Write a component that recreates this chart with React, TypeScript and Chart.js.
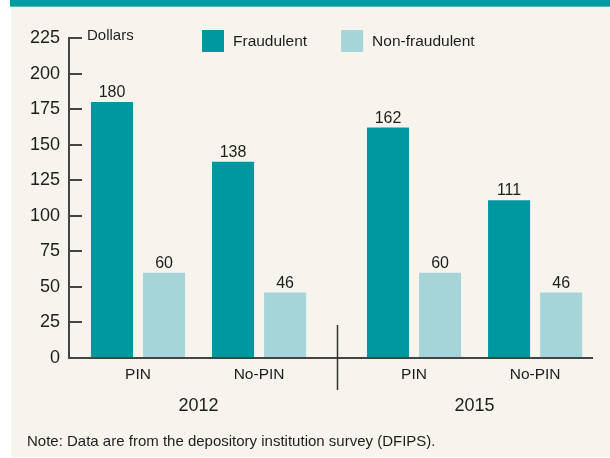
import React, { useEffect, useRef } from "react";
import { Chart, registerables } from "chart.js";

Chart.register(...registerables);

// ---- data ----
const years = ["2012", "2015"];
const cardTypes = ["PIN", "No-PIN"];
const seriesNames = ["Fraudulent", "Non-fraudulent"];
const fraudulent = [180, 138, 162, 111];
const nonFraudulent = [60, 46, 60, 46];
const yTickValues = [0, 25, 50, 75, 100, 125, 150, 175, 200, 225];
const unitLabel = "Dollars";
const noteText = "Note: Data are from the depository institution survey (DFIPS).";

// ---- layout / style ----
const YEAR_GAP = 0.28;
const X_MIN = -0.57;
const X_MAX = 3.75;
const FONT = "'Liberation Sans', Arial, sans-serif";
const TEXT = "#1f1d1c";
const AXIS = "#444444";
const DARK_TEAL = "#0098a0";
const LIGHT_TEAL = "#a6d5d9";
const BG = "#f7f4ee";

const xPositions = years.flatMap((_, yi) =>
  cardTypes.map((_, ci) => yi * (cardTypes.length + YEAR_GAP) + ci)
);
const xLabels = years.flatMap(() => cardTypes);
const yearCenters = years.map(
  (_, yi) => yi * (cardTypes.length + YEAR_GAP) + (cardTypes.length - 1) / 2
);

const decorPlugin = {
  id: "decor",
  beforeDraw(chart: any) {
    const { ctx, width, height } = chart;
    ctx.save();
    ctx.fillStyle = "#ffffff";
    ctx.fillRect(0, 0, width, height);
    ctx.fillStyle = BG;
    ctx.fillRect(11, 0, width - 11, height - 1);
    ctx.fillStyle = "#009aa0";
    ctx.fillRect(10, 0, width - 10, 6);
    ctx.fillStyle = "#4fb8bc";
    ctx.fillRect(10, 6, width - 10, 1);
    ctx.restore();
  },
  afterDatasetsDraw(chart: any) {
    const { ctx } = chart;
    ctx.save();
    ctx.font = `16px ${FONT}`;
    ctx.fillStyle = TEXT;
    ctx.textAlign = "center";
    ctx.textBaseline = "alphabetic";
    chart.data.datasets.forEach((ds: any, di: number) => {
      const meta = chart.getDatasetMeta(di);
      meta.data.forEach((el: any, i: number) => {
        ctx.fillText(String(ds.data[i].y), el.x, el.y - 5);
      });
    });
    ctx.restore();
  },
  afterDraw(chart: any) {
    const { ctx, chartArea, scales } = chart;
    ctx.save();
    // unit label
    ctx.font = `15px ${FONT}`;
    ctx.fillStyle = TEXT;
    ctx.textAlign = "left";
    ctx.textBaseline = "middle";
    ctx.fillText(unitLabel, chartArea.left + 18, chartArea.top - 2.5);
    // legend
    ctx.font = `15.5px ${FONT}`;
    let x = 202;
    chart.data.datasets.forEach((ds: any) => {
      ctx.fillStyle = ds.backgroundColor;
      ctx.fillRect(x, 30, 22, 22);
      ctx.fillStyle = TEXT;
      ctx.fillText(ds.label, x + 31, 42);
      x += 31 + ctx.measureText(ds.label).width + 34;
    });
    // year separator
    const sepVal =
      (xPositions[cardTypes.length - 1] + xPositions[cardTypes.length]) / 2;
    const sx = Math.round(scales.x.getPixelForValue(sepVal)) + 0.5;
    ctx.strokeStyle = "#333";
    ctx.lineWidth = 1.5;
    ctx.beginPath();
    ctx.moveTo(sx, chartArea.bottom - 33);
    ctx.lineTo(sx, chartArea.bottom + 32);
    ctx.stroke();
    ctx.restore();
  },
};

export default function App() {
  const ref = useRef<HTMLCanvasElement>(null);
  useEffect(() => {
    document.body.style.margin = "0";
    if (!ref.current) return;
    const chart = new Chart(ref.current, {
      type: "bar",
      data: {
        datasets: [
          {
            label: seriesNames[0],
            data: xPositions.map((x, i) => ({ x, y: fraudulent[i] })),
            backgroundColor: DARK_TEAL,
          },
          {
            label: seriesNames[1],
            data: xPositions.map((x, i) => ({ x, y: nonFraudulent[i] })),
            backgroundColor: LIGHT_TEAL,
          },
        ],
      },
      options: {
        animation: false,
        responsive: false,
        events: [],
        datasets: { bar: { categoryPercentage: 0.86, barPercentage: 0.808, grouped: true } },
        layout: { padding: { left: 27, right: 18, top: 38, bottom: 1 } },
        plugins: {
          legend: { display: false },
          tooltip: { enabled: false },
          title: {
            display: true,
            text: noteText,
            position: "bottom",
            align: "start",
            color: TEXT,
            font: { family: FONT, size: 15, weight: "normal" },
            padding: { top: 9, bottom: 6 },
          },
        },
        scales: {
          x: {
            type: "linear",
            min: X_MIN,
            max: X_MAX,
            offset: false,
            position: "bottom",
            weight: 0,
            afterBuildTicks: (s: any) => {
              s.ticks = xPositions.map((v) => ({ value: v }));
            },
            afterFit: (s: any) => {
              s.height = 30;
            },
            grid: { display: false, drawTicks: false },
            border: { display: true, color: AXIS, width: 2 },
            ticks: {
              callback: (_v: any, i: number) => xLabels[i],
              padding: 7,
              color: TEXT,
              font: { family: FONT, size: 15.5 },
              maxRotation: 0,
              autoSkip: false,
            },
          },
          x2: {
            type: "linear",
            axis: "x",
            min: X_MIN,
            max: X_MAX,
            offset: false,
            position: "bottom",
            weight: 1,
            afterBuildTicks: (s: any) => {
              s.ticks = yearCenters.map((v) => ({ value: v }));
            },
            afterFit: (s: any) => {
              s.height = 36;
            },
            grid: { display: false, drawTicks: false },
            border: { display: false },
            ticks: {
              callback: (_v: any, i: number) => years[i],
              padding: 7,
              color: TEXT,
              font: { family: FONT, size: 18 },
              maxRotation: 0,
              autoSkip: false,
            },
          },
          y: {
            type: "linear",
            min: 0,
            max: 225,
            afterBuildTicks: (s: any) => {
              s.ticks = yTickValues.map((v) => ({ value: v }));
            },
            afterFit: (s: any) => {
              s.width = 42;
            },
            grid: {
              drawOnChartArea: false,
              drawTicks: true,
              tickLength: -13,
              color: AXIS,
              lineWidth: 2,
            },
            border: { display: true, color: AXIS, width: 2 },
            ticks: {
              padding: 22,
              color: TEXT,
              font: { family: FONT, size: 18 },
            },
          },
        },
      } as any,
      plugins: [decorPlugin],
    });
    return () => chart.destroy();
  }, []);
  return <canvas ref={ref} width={610} height={458} />;
}
